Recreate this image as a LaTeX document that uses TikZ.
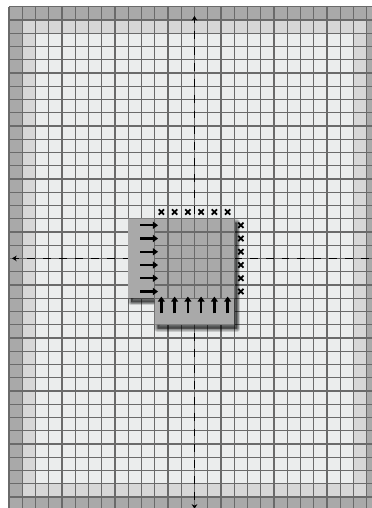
\documentclass[tikz,border=0pt]{standalone}
\usetikzlibrary{arrows.meta}
\definecolor{ringdark}{HTML}{A9A9A9}
\definecolor{ringlight}{HTML}{D7D7D7}
\definecolor{innerc}{HTML}{EBEDED}
\definecolor{gridc}{HTML}{6A6A6A}
\definecolor{shapec}{HTML}{A9A9A9}
\begin{document}
\begin{tikzpicture}[x=5mm,y=5mm,
  gridline/.style={gridc, line width=1.3pt},
  axisline/.style={black, line width=1.4pt, dash pattern=on 3mm off 3mm, dash phase=1.4mm},
  axistip/.style={{Stealth[length=5pt,width=6pt]}-{Stealth[length=5pt,width=6pt]}},
  bigarrow/.style={black, line width=2.5pt, -{Triangle[length=5.5pt,width=7.5pt]}},
  xstroke/.style={black, line width=2pt},
  shadowlayer/.style={black, fill opacity=0.15, draw opacity=0.15, line join=round}]
\useasboundingbox (-0.679,0.163) rectangle (27.396,38.503);
\clip (-0.679,0.163) rectangle (27.396,38.503);
\fill[white] (-0.679,0.163) rectangle (27.396,38.503);
% background rings
\fill[ringdark] (0,0) rectangle (28,38);
\fill[ringlight] (1,1) rectangle (27,37);
\fill[innerc] (2,2) rectangle (26,36);
\foreach \i in {0,...,28}{ \draw[gridline] (\i,0) -- (\i,38); }
\foreach \j in {0,...,38}{ \draw[gridline] (0,\j) -- (28,\j); }
% axes
\coordinate (vt) at (14,37.3);
\coordinate (vb) at (14,0.1);
\coordinate (hl) at (0.23,19);
\coordinate (hr) at (27.77,19);
\draw[axisline, axistip] (vt) -- (vb);
\draw[axisline, axistip] (hl) -- (hr);
% shadow
\foreach \w in {7,5,3,1}{
  \filldraw[shadowlayer, line width=\w pt, shift={(0.22,-0.3)}]
    (9,22) -- (17,22) -- (17,14) -- (11,14) -- (11,16) -- (9,16) -- cycle;
}
% shape
\fill[shapec] (9,22) -- (17,22) -- (17,14) -- (11,14) -- (11,16) -- (9,16) -- cycle;
\foreach \i in {11,...,17}{ \draw[gridline] (\i,16) -- (\i,22); }
\foreach \j in {16,...,22}{ \draw[gridline] (11,\j) -- (17,\j); }
% arrows
\foreach \y in {16.5,17.5,...,21.5}{
  \draw[bigarrow] (9.9,\y) -- (11.25,\y);
}
\foreach \x in {11.5,12.5,...,16.5}{
  \draw[bigarrow] (\x,14.85) -- (\x,16.12);
}
% crosses
\foreach \x in {11.5,12.5,...,16.5}{
  \draw[xstroke] (\x-0.2,22.3) -- (\x+0.2,22.7) (\x-0.2,22.7) -- (\x+0.2,22.3);
}
\foreach \y in {16.5,17.5,...,21.5}{
  \draw[xstroke] (17.3,\y-0.2) -- (17.7,\y+0.2) (17.3,\y+0.2) -- (17.7,\y-0.2);
}
\end{tikzpicture}
\end{document}
